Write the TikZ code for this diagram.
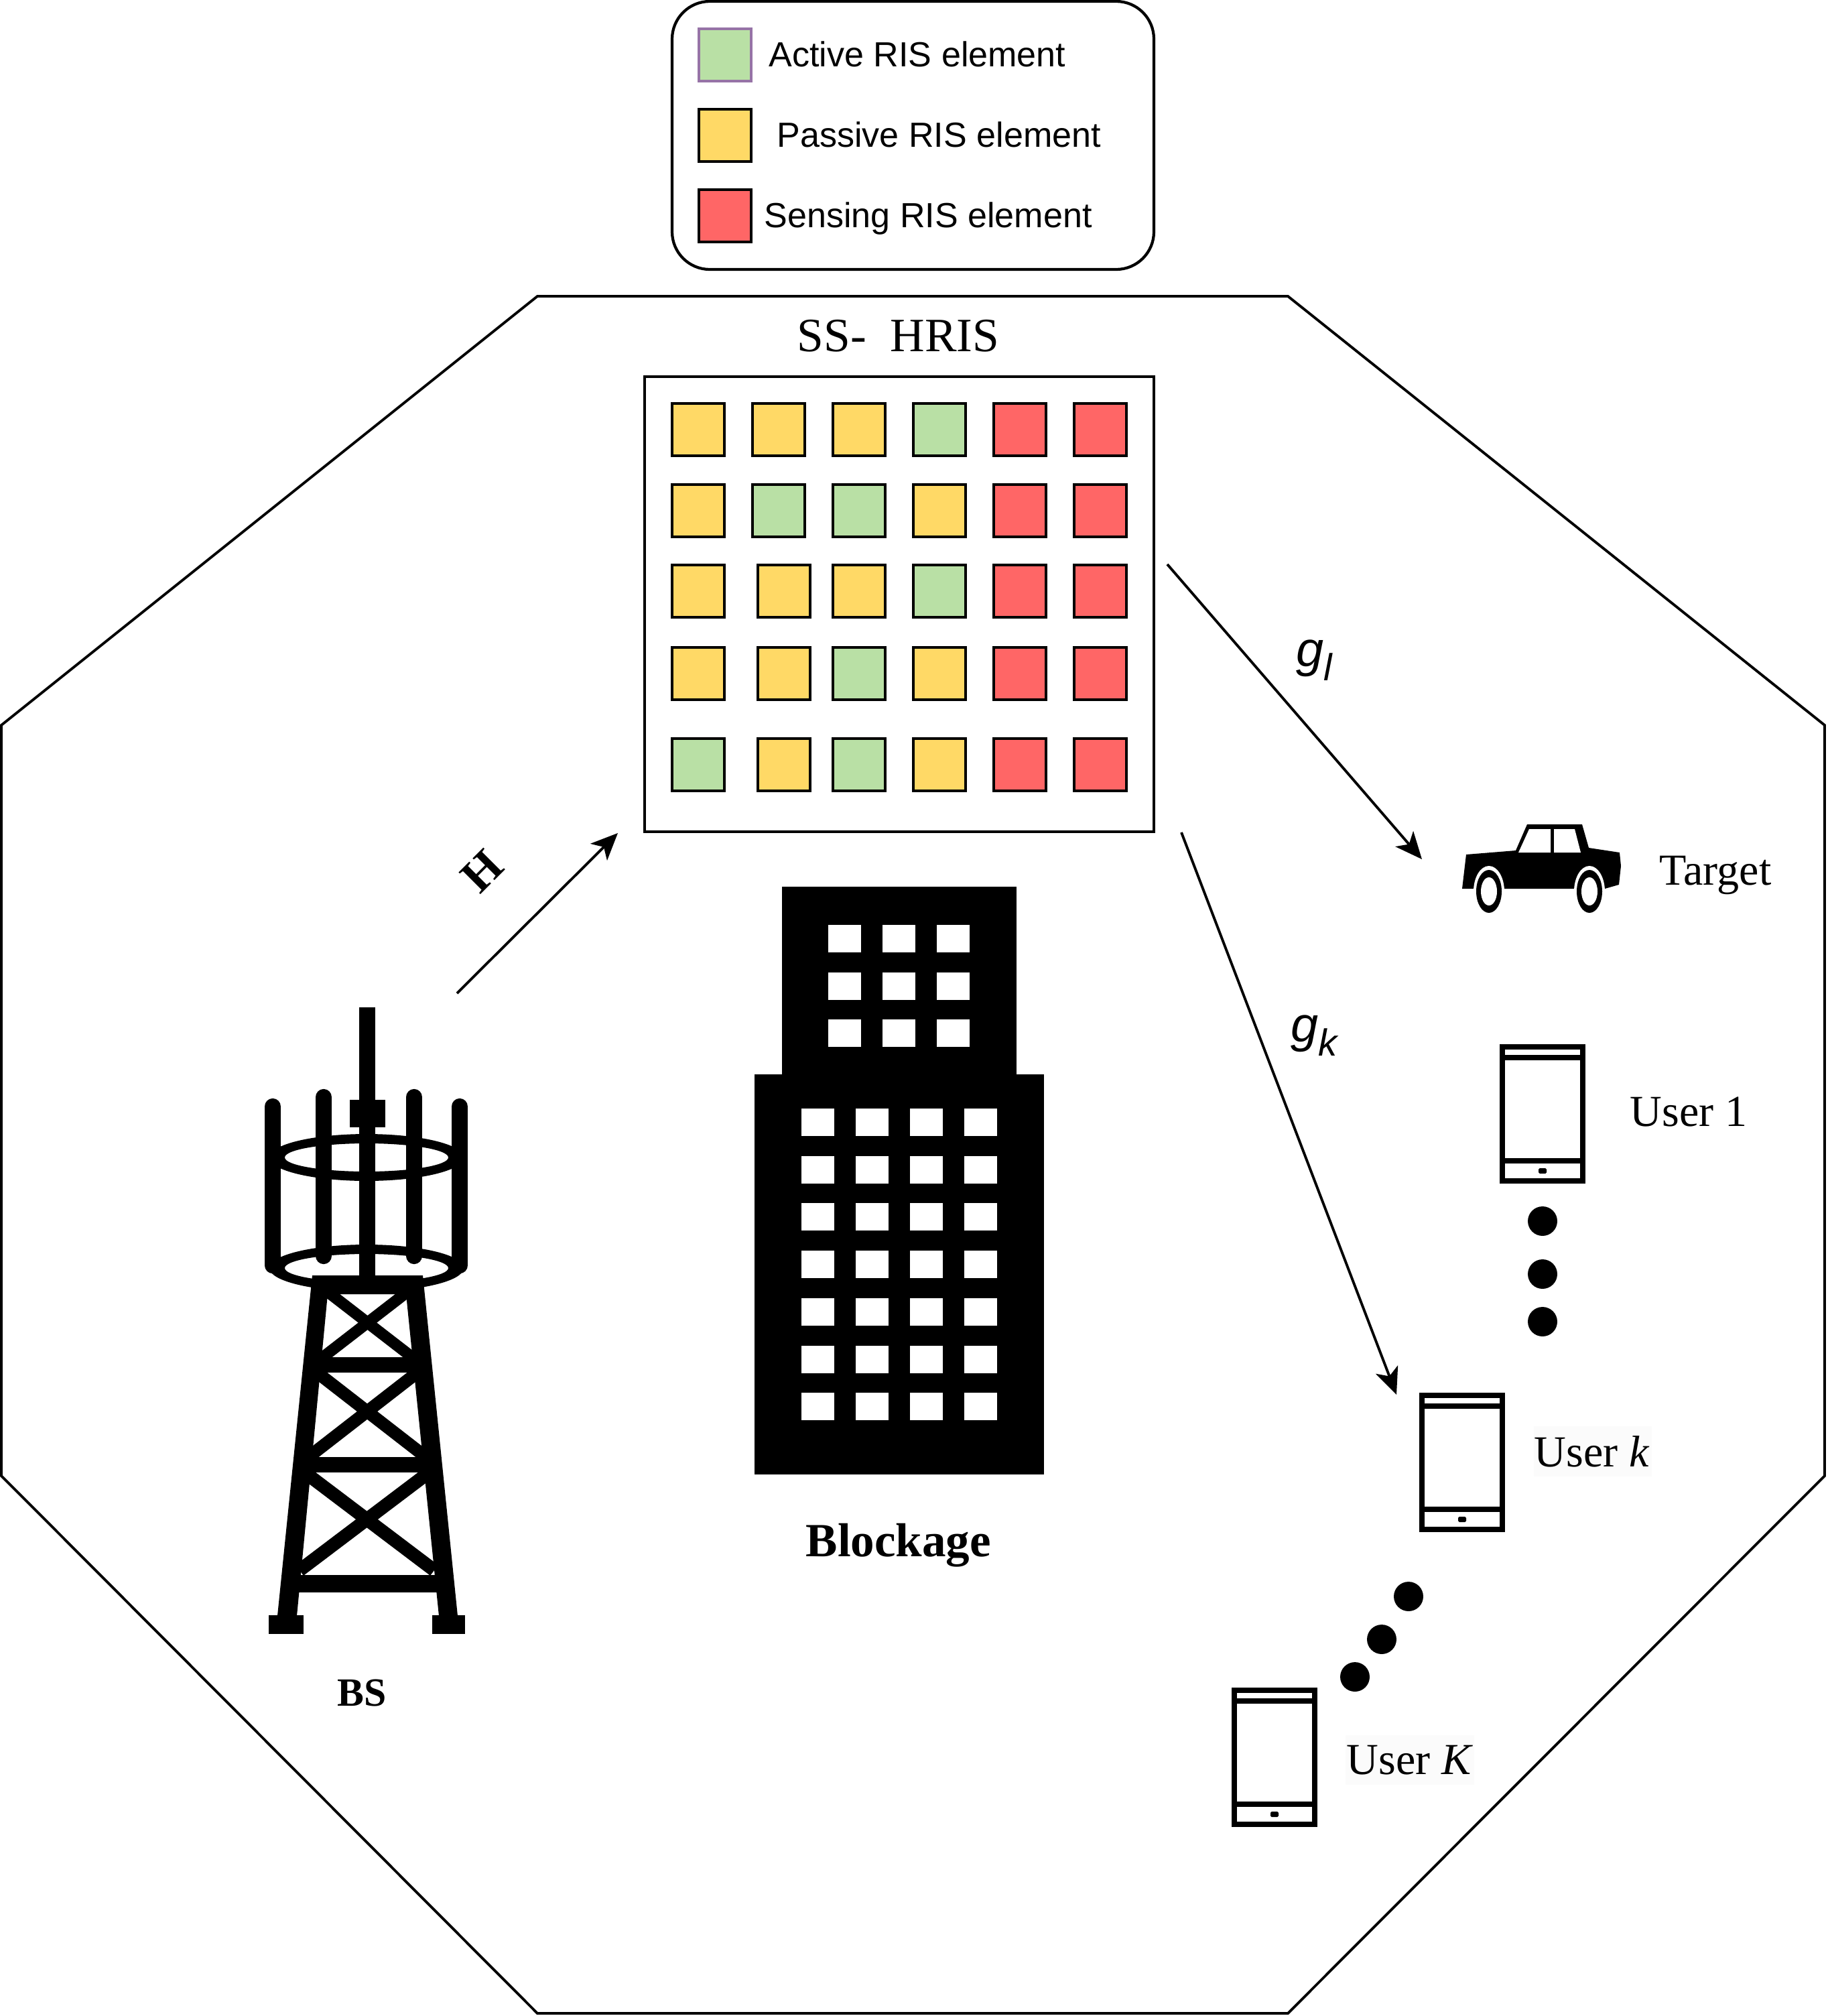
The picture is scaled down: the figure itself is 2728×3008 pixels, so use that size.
\documentclass[tikz,border=0pt]{standalone}
\usepackage{fontspec}
\setmainfont{Liberation Serif}
\setsansfont{Liberation Sans}
\usetikzlibrary{arrows.meta}
\definecolor{actcol}{HTML}{B9E0A5}
\definecolor{pascol}{HTML}{FFD966}
\definecolor{sencol}{HTML}{FF6666}
\definecolor{actedge}{HTML}{9673A6}
\definecolor{faintbg}{HTML}{FBFBFB}

\begin{document}
\begin{tikzpicture}[x=0.01cm,y=-0.01cm]
	\tikzset{
	    elem/.style={draw=black,line width=1.2pt,minimum size=22.3pt,inner sep=0pt,outer sep=0pt},
	    legtxt/.style={anchor=base west,inner sep=0pt,font=\sffamily\fontsize{14.8}{16}\selectfont},
	    usrtxt/.style={anchor=base west,inner sep=0pt,font=\fontsize{18.8}{20}\selectfont},
	    boldtxt/.style={anchor=base west,inner sep=0pt,font=\bfseries\fontsize{20.2}{22}\selectfont},
	    chantxt/.style={inner sep=0pt,font=\sffamily\itshape\fontsize{21}{23}\selectfont},
	    link/.style={line width=1.1pt,-{Stealth[length=11.4pt,width=10pt,inset=3pt]}},
	    phone/.pic={
	        \draw[line width=2.3pt] (-60,-100) rectangle (60,100);
	        \draw[line width=2.2pt] (-60,-84) -- (60,-84);
	        \draw[line width=2.2pt] (-60,70) -- (60,70);
	        \fill[rounded corners=0.5pt] (-6,81) rectangle (6,89);
	    },
	    dotmark/.style={circle,fill=black,minimum size=12.5pt,inner sep=0pt}
	}
	\useasboundingbox (0,0) rectangle (2728,3008);

	% outer cell
	\draw[line width=1.1pt] (802,442) -- (1922,442) -- (2723,1082) -- (2723,2202) -- (1922,3004)
		-- (802,3004) -- (2,2202) -- (2,1082) -- cycle;

	% legend
	\draw[line width=1.2pt,rounded corners=16pt] (1003,2) rectangle (1722,402);
	\node[elem,draw=actedge,fill=actcol] (legact) at (1082,82) {};
	\node[elem,fill=pascol] (legpas) at (1082,202) {};
	\node[elem,fill=sencol] (legsen) at (1082,322) {};
	\node[legtxt] (txtact) at (1147,99) {Active RIS element};
	\node[legtxt] (txtpas) at (1159,219) {Passive RIS element};
	\node[legtxt] (txtsen) at (1140,339) {Sensing RIS element};

	% the surface
	\node[anchor=base west,inner sep=0pt,font=\fontsize{20.3}{22}\selectfont] (hristxt) at (1189,524) {SS-\ \ HRIS};
	\draw[line width=1.1pt] (962,562) rectangle (1722,1241);
	\foreach \ey/\en/\xb/\ca/\cb/\cc/\cd in {
		641/a/1162/pascol/pascol/pascol/actcol,
		762/b/1162/pascol/actcol/actcol/pascol,
		882/c/1170/pascol/pascol/pascol/actcol,
		1005/d/1170/pascol/pascol/actcol/pascol,
		1141/e/1170/actcol/pascol/actcol/pascol}{
		\node[elem,fill=\ca] (\en1) at (1042,\ey) {};
		\node[elem,fill=\cb] (\en2) at (\xb,\ey) {};
		\node[elem,fill=\cc] (\en3) at (1282,\ey) {};
		\node[elem,fill=\cd] (\en4) at (1402,\ey) {};
		\node[elem,fill=sencol] (\en5) at (1522,\ey) {};
		\node[elem,fill=sencol] (\en6) at (1642,\ey) {};
	}

	% channels
	\coordinate (hfrom) at (682,1482);
	\coordinate (hto) at (922,1243);
	\coordinate (glfrom) at (1742,842);
	\coordinate (glto) at (2122,1282);
	\coordinate (gkfrom) at (1763,1242);
	\coordinate (gkto) at (2084,2081);
	\draw[link] (hfrom) -- (hto);
	\draw[link] (glfrom) -- (glto);
	\draw[link] (gkfrom) -- (gkto);
	\node[inner sep=0pt,rotate=45,font=\bfseries\fontsize{20}{22}\selectfont] (hlabel) at (720,1300) {H};
	\node[chantxt] (gllabel) at (1961,985) {g\raisebox{-0.28em}{\fontsize{16}{17}\selectfont l}};
	\node[chantxt] (gklabel) at (1961,1545) {g\raisebox{-0.28em}{\fontsize{16}{17}\selectfont k}};

	% blockage
	\fill (1167,1323) rectangle (1517,1610);
	\fill (1126,1603) rectangle (1558,2200);
	\foreach \wx in {0,1,2}
		\foreach \wy in {0,1,2}
			\fill[white] ({1236+\wx*81},{1380+\wy*70.6}) rectangle +(49,41);
	\foreach \wx in {0,1,2,3}
		\foreach \wy in {0,...,6}
			\fill[white] ({1196+\wx*81},{1654+\wy*70.7}) rectangle +(49,41);
	\node[boldtxt] (blocktxt) at (1202,2322) {Blockage};

	% tower
	\fill[even odd rule] (547,1727) ellipse [x radius=145,y radius=35] (547,1727) ellipse [x radius=122,y radius=21];
	\fill[even odd rule] (547,1892) ellipse [x radius=145,y radius=35] (547,1892) ellipse [x radius=122,y radius=21];
	\fill (536,1503) rectangle (560,1910);
	\fill (522,1641) rectangle (575,1682);
	\draw[line width=6.9pt,line cap=round] (407,1651) -- (407,1888);
	\draw[line width=6.9pt,line cap=round] (686,1651) -- (686,1888);
	\draw[line width=6.9pt,line cap=round] (483,1637) -- (483,1874);
	\draw[line width=6.9pt,line cap=round] (618,1637) -- (618,1874);
	\fill (466,1903) -- (631,1903) -- (683,2411) -- (655,2411) -- (606,1931) -- (489,1931) -- (443,2411) -- (414,2411) -- cycle;
	\fill (401,2410) rectangle (453,2438);
	\fill (645,2410) rectangle (694,2438);
	\fill (475,2025) rectangle (623,2048);
	\fill (460,2174) rectangle (638,2197);
	\fill (445,2350) rectangle (652,2376);
	\begin{scope}
	\clip (466,1903) -- (631,1903) -- (683,2411) -- (414,2411) -- cycle;
	\draw[line width=4.8pt] (478,1919) -- (619,2028);
	\draw[line width=4.8pt] (619,1919) -- (478,2028);
	\draw[line width=5.3pt] (463,2040) -- (633,2172);
	\draw[line width=5.3pt] (633,2040) -- (463,2172);
	\draw[line width=5.6pt] (447,2191) -- (648,2343);
	\draw[line width=5.6pt] (648,2191) -- (447,2343);
	\end{scope}
	\node[anchor=base west,inner sep=0pt,font=\bfseries\fontsize{17}{19}\selectfont] (bstxt) at (503,2545) {BS};

	% target
	\fill (2182,1326) -- (2188,1275) -- (2262,1269) -- (2279,1230) -- (2361,1230) -- (2371,1265)
		-- (2417,1272) -- (2419,1292) -- (2416,1320) -- (2395,1326) -- cycle;
	\fill[white] (2266,1272) -- (2282,1237) -- (2314,1237) -- (2314,1272) -- cycle;
	\fill[white] (2319,1237) -- (2350,1237) -- (2359,1272) -- (2319,1272) -- cycle;
	\foreach \cx in {2222,2372}{
		\fill[white] (\cx,1330) ellipse [x radius=23,y radius=38];
		\fill (\cx,1330) ellipse [x radius=19,y radius=32];
		\fill[white] (\cx,1330) ellipse [x radius=12,y radius=21];
	}
	\node[usrtxt] (tgttxt) at (2476,1320) {Target};

	% users
	\pic at (2302,1662) {phone};
	\pic at (2182,2182) {phone};
	\pic at (1902,2622) {phone};
	\fill[faintbg] (2289,2128) rectangle (2465,2203);
	\fill[faintbg] (2008,2589) rectangle (2200,2663);
	\node[usrtxt] (usr1txt) at (2432,1680) {User 1};
	\node[usrtxt] (usrktxt) at (2289,2188) {User \textit{k}};
	\node[usrtxt] (usrKtxt) at (2009,2647) {User \textit{K}};
	\node[dotmark] (da) at (2302,1822) {};
	\node[dotmark] (db) at (2302,1901) {};
	\node[dotmark] (dc) at (2302,1972) {};
	\node[dotmark] (dd) at (2102,2382) {};
	\node[dotmark] (de) at (2062,2446) {};
	\node[dotmark] (df) at (2022,2502) {};
\end{tikzpicture}
\end{document}
